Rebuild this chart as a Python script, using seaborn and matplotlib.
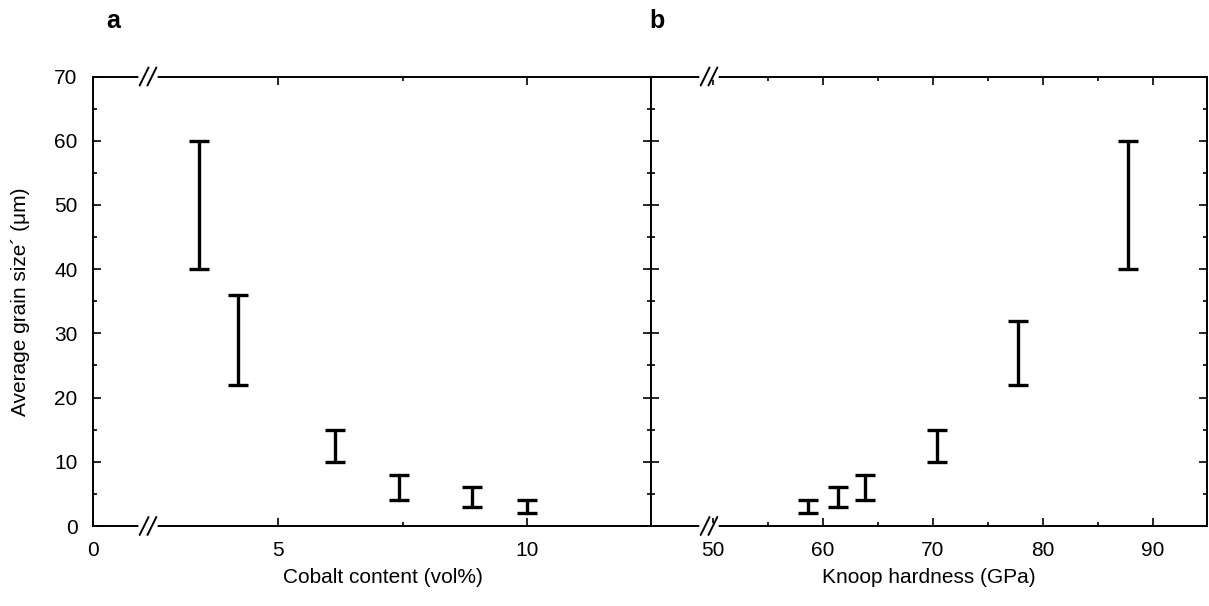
import numpy as np
import pandas as pd
import matplotlib
matplotlib.use("Agg")
import matplotlib.pyplot as plt
from matplotlib.ticker import MultipleLocator, FixedLocator
import seaborn as sns

# ---- data ----
cobalt = [3.41, 4.18, 6.14, 7.43, 8.90, 10.00]
cobalt_low = [40, 22, 10, 4, 3, 2]
cobalt_high = [60, 36, 15, 8, 6, 4]

hardness = [58.7, 61.4, 63.8, 70.4, 77.7, 87.7]
hard_low = [2, 3, 4, 10, 22, 40]
hard_high = [4, 6, 8, 15, 32, 60]

y_ticks = [0, 10, 20, 30, 40, 50, 60, 70]
xa_ticklabels = ["0", "5", "10"]
xb_ticks = [50, 60, 70, 80, 90]

sns.set_style("ticks")
plt.rcParams['font.family'] = ['Liberation Sans', 'DejaVu Sans']
plt.rcParams['text.color'] = 'black'
plt.rcParams['axes.labelcolor'] = 'black'
plt.rcParams['xtick.color'] = 'black'
plt.rcParams['ytick.color'] = 'black'

FS = 15

def long_df(xs, lows, highs):
    rows = []
    for x, lo, hi in zip(xs, lows, highs):
        rows.append({"x": x, "size": lo})
        rows.append({"x": x, "size": hi})
    return pd.DataFrame(rows)

fig = plt.figure(figsize=(12.09, 6.06), dpi=100)
W, H = 1209, 606
y_top, y_bot = 76.5, 526
axa = fig.add_axes([93 / W, (H - y_bot) / H, (651 - 93) / W, (y_bot - y_top) / H])
axb = fig.add_axes([651 / W, (H - y_bot) / H, (1207 - 651) / W, (y_bot - y_top) / H])

err_kws = dict(capsize=7, elinewidth=2.4, capthick=2.4, ecolor="black")

for ax, xs, lo, hi in [(axa, cobalt, cobalt_low, cobalt_high),
                       (axb, hardness, hard_low, hard_high)]:
    df = long_df(xs, lo, hi)
    sns.lineplot(data=df, x="x", y="size", estimator="mean",
                 errorbar=("pi", 100), err_style="bars", err_kws=err_kws,
                 color="black", linestyle="", marker=None, ax=ax, legend=False)
    ax.set_ylim(0, 70)
    ax.yaxis.set_major_locator(FixedLocator(y_ticks))
    ax.yaxis.set_minor_locator(MultipleLocator(5))
    for s in ax.spines.values():
        s.set_linewidth(1.4)
        s.set_color("black")
        s.set_visible(True)
    ax.tick_params(which="both", direction="in", top=True, right=True,
                   bottom=True, left=True, color="black", width=1.2,
                   labelcolor="black")
    ax.tick_params(which="major", length=6, labelsize=FS, pad=11)
    ax.tick_params(which="minor", length=3)
    ax.set_xlabel("")
    ax.set_ylabel("")

# panel a x axis (broken: "0" at left edge)
xa_min, xa_max = 1.27, 12.5
axa.set_xlim(xa_min, xa_max)
axa.xaxis.set_major_locator(FixedLocator([xa_min, 5, 10]))
axa.set_xticklabels(xa_ticklabels)
axa.xaxis.set_minor_locator(FixedLocator([7.5]))
axa.set_yticklabels([str(v) for v in y_ticks])

axb.set_xlim(44.4, 94.9)
axb.xaxis.set_major_locator(FixedLocator(xb_ticks))
axb.xaxis.set_minor_locator(FixedLocator([55, 65, 75, 85]))
axb.set_yticklabels([])

axa.set_xlabel("Cobalt content (vol%)", fontsize=FS)
axa.xaxis.set_label_coords(0.52, -0.093)
axa.xaxis.label.set_va("top")
axb.set_xlabel("Knoop hardness (GPa)", fontsize=FS)
axb.xaxis.set_label_coords(0.5, -0.093)
axb.xaxis.label.set_va("top")
axa.set_ylabel("Average grain size\u00b4 (\u03bcm)", fontsize=FS)
axa.yaxis.set_label_coords(-0.113, 0.5)

# axis-break marks
def brk(ax, xf):
    for yf in (0, 1):
        ax.plot([xf - 0.012, xf + 0.012], [yf, yf], transform=ax.transAxes,
                color="white", lw=4, clip_on=False, zorder=5)
        for dx in (-0.007, 0.007):
            ax.plot([xf + dx - 0.008, xf + dx + 0.008], [yf - 0.02, yf + 0.02],
                    transform=ax.transAxes, color="black", lw=1.4,
                    clip_on=False, zorder=6)

brk(axa, (148 - 93) / 558)
brk(axb, (709 - 651) / 556)

fig.text(113 / W, 1 - 21 / H, "a", fontsize=18, fontweight="bold", ha="center", va="center")
fig.text(657 / W, 1 - 21 / H, "b", fontsize=18, fontweight="bold", ha="center", va="center")

fig.savefig("out.png", dpi=100)
